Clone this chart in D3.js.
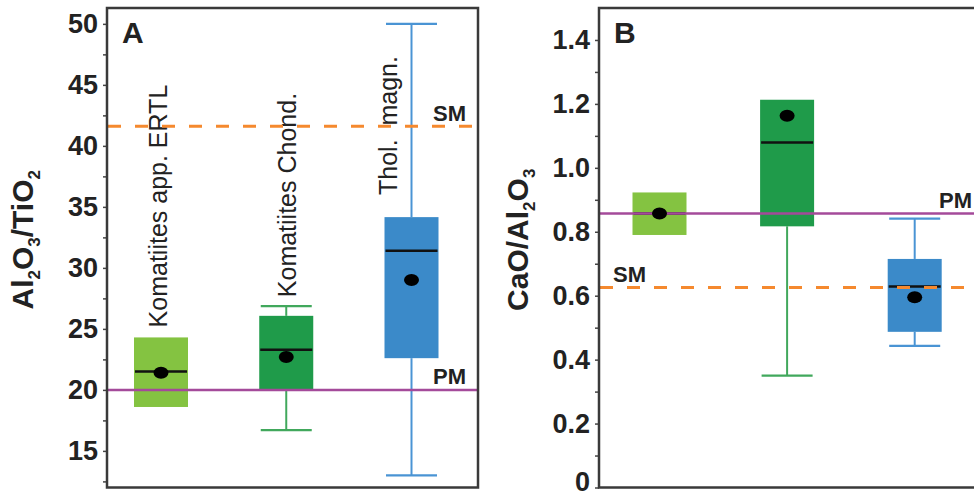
<!DOCTYPE html>
<html>
<head>
<meta charset="utf-8">
<script src="https://cdn.jsdelivr.net/npm/d3@7"></script>
<style>
  html, body { margin: 0; padding: 0; background: #fff; }
  svg { display: block; }
</style>
</head>
<body>
<svg id="chart" width="974" height="500"></svg>
<script>
// ---------------- DATA ----------------
const categories = ["Komatiites app. ERTL", "Komatiites Chond.", "Thol.  magn."];

// Panel A : Al2O3/TiO2
const aQ1     = [18.6, 20.05, 22.6];
const aQ3     = [24.3, 26.07, 34.16];
const aMedian = [21.5, 23.3, 31.4];
const aMean   = [21.4, 22.7, 29.0];
const aMin    = [null, 16.7, 13.0];
const aMax    = [null, 26.86, 50.0];
const aTicks  = [15, 20, 25, 30, 35, 40, 45, 50];
const aMinor  = [12.5, 17.5, 22.5, 27.5, 32.5, 37.5, 42.5, 47.5];
const aPM = 20.0, aSM = 41.6;

// Panel B : CaO/Al2O3
const bQ1     = [0.79, 0.817, 0.487];
const bQ3     = [0.923, 1.213, 0.715];
const bMedian = [0.857, 1.079, 0.629];
const bMean   = [0.857, 1.163, 0.595];
const bMin    = [null, 0.35, 0.443];
const bMax    = [null, null, 0.841];
const bTicks  = [0, 0.2, 0.4, 0.6, 0.8, 1.0, 1.2, 1.4];
const bMinor  = [0.1, 0.3, 0.5, 0.7, 0.9, 1.1, 1.3];
const bPM = 0.857, bSM = 0.626;

const boxColors     = ["#84c341", "#1f9b4a", "#3b8ac9"];
const whiskerColors = ["#84c341", "#41a85c", "#4a94d4"];

// ---------------- DRAW ----------------
const svg = d3.select("#chart");
const FONT = "'Liberation Sans', Arial, Helvetica, sans-serif";
const PM_COLOR = "#a44a9a", SM_COLOR = "#f5892e", TEXT = "#222";

function panel(cfg) {
  const { x0, x1, y0, y1, domain, q1, q3, med, mean, lo, hi, ticks, minor, fmt,
          pm, sm, letter, title, xr, labels, smLab, pmLab } = cfg;
  const g = svg.append("g");
  const y = d3.scaleLinear().domain(domain).range([y1, y0]);
  const x = d3.scalePoint().domain(categories).range([x0 + xr[0], x0 + xr[1]]);
  const bw = 54, cw = 51;

  // axis ticks
  const ax = g.append("g").attr("transform", `translate(${x0},0)`)
    .call(d3.axisLeft(y).tickValues(ticks).tickSize(4).tickPadding(5).tickFormat(fmt));
  ax.select(".domain").remove();
  ax.selectAll(".tick line").attr("stroke", "#444").attr("stroke-width", 1.5);
  ax.selectAll(".tick text").attr("font-family", FONT).attr("font-size", 27)
    .attr("font-weight", "bold").attr("fill", TEXT)
    .attr("dy", d => (y(d) > y1 - 2 ? "0.1em" : "0.32em"));
  const axm = g.append("g").attr("transform", `translate(${x0},0)`)
    .call(d3.axisLeft(y).tickValues(minor).tickSize(4).tickFormat(""));
  axm.select(".domain").remove();
  axm.selectAll(".tick line").attr("stroke", "#444").attr("stroke-width", 1.5);

  // whiskers
  categories.forEach((c, i) => {
    const cx = x(c);
    const col = whiskerColors[i];
    if (hi[i] != null) {
      g.append("line").attr("x1", cx).attr("x2", cx).attr("y1", y(q3[i])).attr("y2", y(hi[i]))
        .attr("stroke", col).attr("stroke-width", 2);
      g.append("line").attr("x1", cx - cw / 2).attr("x2", cx + cw / 2).attr("y1", y(hi[i])).attr("y2", y(hi[i]))
        .attr("stroke", col).attr("stroke-width", 2.2);
    }
    if (lo[i] != null) {
      g.append("line").attr("x1", cx).attr("x2", cx).attr("y1", y(q1[i])).attr("y2", y(lo[i]))
        .attr("stroke", col).attr("stroke-width", 2);
      g.append("line").attr("x1", cx - cw / 2).attr("x2", cx + cw / 2).attr("y1", y(lo[i])).attr("y2", y(lo[i]))
        .attr("stroke", col).attr("stroke-width", 2.2);
    }
  });

  // boxes
  g.selectAll("rect.box").data(categories).enter().append("rect")
    .attr("class", "box")
    .attr("x", d => x(d) - bw / 2).attr("width", bw)
    .attr("y", (d, i) => y(q3[i])).attr("height", (d, i) => y(q1[i]) - y(q3[i]))
    .attr("fill", (d, i) => boxColors[i]);

  // medians
  g.selectAll("line.med").data(categories).enter().append("line")
    .attr("x1", d => x(d) - bw / 2 + 1).attr("x2", d => x(d) + bw / 2 - 1)
    .attr("y1", (d, i) => y(med[i])).attr("y2", (d, i) => y(med[i]))
    .attr("stroke", "#111").attr("stroke-width", 2.5);

  // category labels
  if (labels) {
    categories.forEach((c, i) => {
      const p = labels(i, x, y);
      g.append("text").attr("transform", `translate(${p[0]},${p[1]}) rotate(-90)`)
        .attr("font-family", FONT).attr("font-size", 25).attr("fill", TEXT)
        .attr("xml:space", "preserve").style("white-space", "pre")
        .text(c);
    });
  }

  // reference lines
  g.append("line").attr("x1", x0).attr("x2", x1).attr("y1", y(pm)).attr("y2", y(pm))
    .attr("stroke", PM_COLOR).attr("stroke-width", 2.5);
  g.append("line").attr("x1", x0 + 1).attr("x2", x1).attr("y1", y(sm)).attr("y2", y(sm))
    .attr("stroke", SM_COLOR).attr("stroke-width", 3).attr("stroke-dasharray", "13,14");

  // means
  g.selectAll("ellipse.mean").data(categories).enter().append("ellipse")
    .attr("cx", d => x(d)).attr("cy", (d, i) => y(mean[i]))
    .attr("rx", 7.5).attr("ry", 6).attr("fill", "#000");

  // SM / PM labels
  const labStyle = t => t.attr("font-family", FONT).attr("font-size", 22)
    .attr("font-weight", "bold").attr("fill", TEXT);
  g.append("text").attr("x", smLab).attr("y", y(sm) - 5).text("SM").call(labStyle);
  g.append("text").attr("x", pmLab).attr("y", y(pm) - 6).text("PM").call(labStyle);

  // frame
  g.append("rect").attr("x", x0).attr("y", y0).attr("width", x1 - x0).attr("height", y1 - y0)
    .attr("fill", "none").attr("stroke", "#3a3a3a").attr("stroke-width", 2.5);

  // panel letter
  g.append("text").attr("x", x0 + 15).attr("y", y0 + 35).text(letter)
    .attr("font-family", FONT).attr("font-size", 30).attr("font-weight", "bold").attr("fill", TEXT);

  // axis title
  const t = g.append("text")
    .attr("transform", `translate(${title.x},${(y0 + y1) / 2 - 8}) rotate(-90)`)
    .attr("text-anchor", "middle")
    .attr("font-family", FONT).attr("font-size", 30).attr("font-weight", "bold").attr("fill", TEXT);
  title.parts.forEach(p => {
    const s = t.append("tspan").text(p[0]);
    if (p[1]) s.attr("font-size", 17).attr("dy", 7);
    else s.attr("dy", p[2] ? -7 : 0);
  });
}

panel({
  x0: 107, x1: 478, y0: 8, y1: 487.5, domain: [12, 51.3],
  q1: aQ1, q3: aQ3, med: aMedian, mean: aMean, lo: aMin, hi: aMax,
  ticks: aTicks, minor: aMinor, fmt: d3.format("d"),
  pm: aPM, sm: aSM, letter: "A", xr: [54, 304.5],
  smLab: 433, pmLab: 433,
  title: { x: 33, parts: [["Al"], ["2", 1], ["O", 0, 1], ["3", 1], ["/TiO", 0, 1], ["2", 1]] },
  labels: (i, x, y) => {
    const cx = x(categories[i]);
    if (i === 0) return [cx + 6, y(aQ3[0]) - 10];
    if (i === 1) return [cx + 10, y(aMax[1]) - 9];
    return [cx - 15, 195];
  }
});

panel({
  x0: 599, x1: 992, y0: 8, y1: 487.5, domain: [0, 1.5],
  q1: bQ1, q3: bQ3, med: bMedian, mean: bMean, lo: bMin, hi: bMax,
  ticks: bTicks, minor: bMinor, fmt: d => d === 0 ? "0" : d3.format(".1f")(d),
  pm: bPM, sm: bSM, letter: "B", xr: [60.5, 315.7],
  smLab: 613, pmLab: 939,
  title: { x: 528, parts: [["CaO/Al"], ["2", 1], ["O", 0, 1], ["3", 1]] },
  labels: null
});
</script>
</body>
</html>
